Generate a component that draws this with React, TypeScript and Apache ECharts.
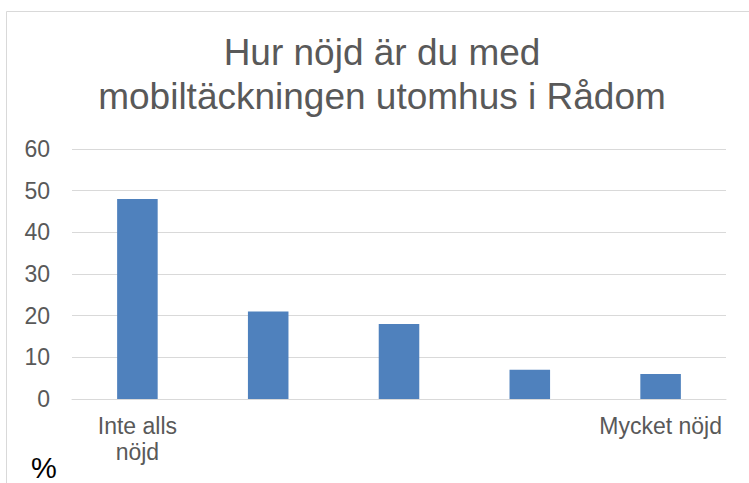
import React, { useEffect, useRef } from "react";
import * as echarts from "echarts";

const titleText = "Hur nöjd är du med\nmobiltäckningen utomhus i Rådom";
const categories = ["Inte alls\nnöjd", "", "", "", "Mycket nöjd"];
const values = [48, 21, 18, 7, 6];
const yMin = 0;
const yMax = 60;
const yInterval = 10;
const unitLabel = "%";

const FONT = "'Liberation Sans', Arial, sans-serif";

export default function App() {
  const ref = useRef<HTMLDivElement>(null);
  useEffect(() => {
    if (!ref.current) return;
    const chart = echarts.init(ref.current, null, { renderer: "svg" });
    chart.setOption({
      animation: false,
      backgroundColor: "#ffffff",
      textStyle: { fontFamily: FONT },
      graphic: [
        {
          type: "rect",
          shape: { x: 6.5, y: 11.5, width: 800, height: 600 },
          style: { fill: "none", stroke: "#d9d9d9", lineWidth: 1 },
          silent: true,
          z: -1,
        },
        {
          type: "text",
          x: 382,
          y: 30,
          style: {
            text: titleText,
            fontFamily: FONT,
            fontSize: 37,
            lineHeight: 44,
            fill: "#595959",
            align: "center",
            verticalAlign: "top",
          },
        },
        {
          type: "text",
          x: 31,
          y: 482,
          style: {
            text: unitLabel,
            fontFamily: FONT,
            fontSize: 29,
            fill: "#000000",
            align: "left",
            verticalAlign: "bottom",
          },
        },
      ],
      grid: { left: 72, right: 23, top: 149, bottom: 84, containLabel: false },
      xAxis: {
        type: "category",
        data: categories,
        axisLine: { show: true, lineStyle: { color: "#d9d9d9", width: 1 } },
        axisTick: { show: false },
        axisLabel: {
          interval: 0,
          color: "#595959",
          fontSize: 23,
          lineHeight: 26,
          margin: 14,
          fontFamily: FONT,
        },
      },
      yAxis: {
        type: "value",
        min: yMin,
        max: yMax,
        interval: yInterval,
        axisLine: { show: false },
        axisTick: { show: false },
        splitLine: { lineStyle: { color: "#d9d9d9", width: 1 } },
        axisLabel: {
          color: "#595959",
          fontSize: 23,
          margin: 22,
          fontFamily: FONT,
        },
      },
      series: [
        {
          type: "bar",
          data: values,
          barWidth: "31%",
          itemStyle: { color: "#4f81bd" },
        },
      ],
    });
    return () => chart.dispose();
  }, []);
  return (
    <div
      ref={ref}
      style={{ position: "fixed", left: 0, top: 0, width: 749, height: 483 }}
    />
  );
}
